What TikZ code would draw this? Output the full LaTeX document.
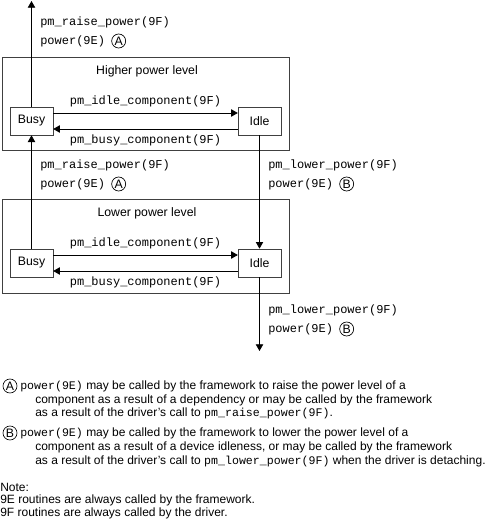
\documentclass[tikz,border=0pt]{standalone}
\usepackage{fontspec}
\setmainfont{Liberation Sans}
\setmonofont{Liberation Mono}
\usetikzlibrary{arrows.meta,positioning}
\tikzset{>={Triangle[length=5pt,width=5.5pt]},every node/.style={font=\fontsize{9.2}{11}\selectfont},
  level/.style={draw=black!75,line width=.5pt},
  state/.style={draw=black!75,line width=.5pt,minimum width=32pt,minimum height=21pt,inner sep=0pt},
  flow/.style={->,line width=.6pt},
  call/.style={anchor=west,inner sep=0pt,font=\fontsize{9}{11}\ttfamily},
  txt/.style={anchor=west,inner sep=0pt,font=\fontsize{9}{11}\selectfont},
  circ/.style={circle,draw,line width=.5pt,inner sep=0pt,minimum size=10.5pt}}
\newcommand{\fn}[1]{{\fontsize{8.7}{11}\ttfamily #1}}

\begin{document}
\begin{tikzpicture}[x=.75pt,y=-.75pt]
\useasboundingbox (0,0) rectangle (493,521);
% higher power level
\draw[level] (2,57) rectangle (289,150);
\node (hi) at (147,71) {Higher power level};
\node[state] (busy1) at (31.5,121) {Busy};
\node[state] (idle1) at (259.5,121) {Idle};
\draw[flow] ([yshift=6pt]busy1.east) -- node[above=1pt,font=\fontsize{9}{11}\ttfamily]{pm\_idle\_component(9F)} ([yshift=6pt]idle1.west);
\draw[flow] ([yshift=-6pt]idle1.west) -- node[below=1pt,font=\fontsize{9}{11}\ttfamily]{pm\_busy\_component(9F)} ([yshift=-6pt]busy1.east);
% lower power level
\draw[level] (2,199) rectangle (289,293);
\node (lo) at (147,213) {Lower power level};
\node[state] (busy2) at (31.5,263) {Busy};
\node[state] (idle2) at (259.5,263) {Idle};
\draw[flow] ([yshift=6pt]busy2.east) -- node[above=1pt,font=\fontsize{9}{11}\ttfamily]{pm\_idle\_component(9F)} ([yshift=6pt]idle2.west);
\draw[flow] ([yshift=-6pt]idle2.west) -- node[below=1pt,font=\fontsize{9}{11}\ttfamily]{pm\_busy\_component(9F)} ([yshift=-6pt]busy2.east);
% transitions between levels
\coordinate (top) at (31.5,1);
\coordinate (bot) at (259.5,351);
\draw[flow] (busy1) -- (top);
\draw[flow] (busy2) -- (busy1);
\draw[flow] (idle1) -- (idle2);
\draw[flow] (idle2) -- (bot);
\node[call] (r1) at (40,22) {pm\_raise\_power(9F)};
\node[call] (p1) at (40,41) {power(9E)};
\node[circ,right=4.5pt of p1] (a1) {A};
\node[call] (r2) at (40,165) {pm\_raise\_power(9F)};
\node[call] (p2) at (40,184) {power(9E)};
\node[circ,right=4.5pt of p2] (a2) {A};
\node[call] (l1) at (268,165) {pm\_lower\_power(9F)};
\node[call] (p3) at (268,184) {power(9E)};
\node[circ,right=4.5pt of p3] (b1) {B};
\node[call] (l2) at (268,310) {pm\_lower\_power(9F)};
\node[call] (p4) at (268,329) {power(9E)};
\node[circ,right=4.5pt of p4] (b2) {B};
% notes
\node[circ] (na) at (10,386) {A};
\node[txt] (na1) at (20,386) {\fn{power(9E)} may be called by the framework to raise the power level of a};
\node[txt] (na2) at (35,400) {component as a result of a dependency or may be called by the framework};
\node[txt] (na3) at (35,413) {as a result of the driver's call to \fn{pm\_raise\_power(9F)}.};
\node[circ] (nb) at (10,433) {B};
\node[txt] (nb1) at (20,433) {\fn{power(9E)} may be called by the framework to lower the power level of a};
\node[txt] (nb2) at (35,447) {component as a result of a device idleness, or may be called by the framework};
\node[txt] (nb3) at (35,461) {as a result of the driver's call to \fn{pm\_lower\_power(9F)} when the driver is detaching.};
\node[txt] (note) at (0,487) {Note:};
\node[txt] (n9e) at (0,500) {9E routines are always called by the framework.};
\node[txt] (n9f) at (0,513) {9F routines are always called by the driver.};
\end{tikzpicture}
\end{document}
